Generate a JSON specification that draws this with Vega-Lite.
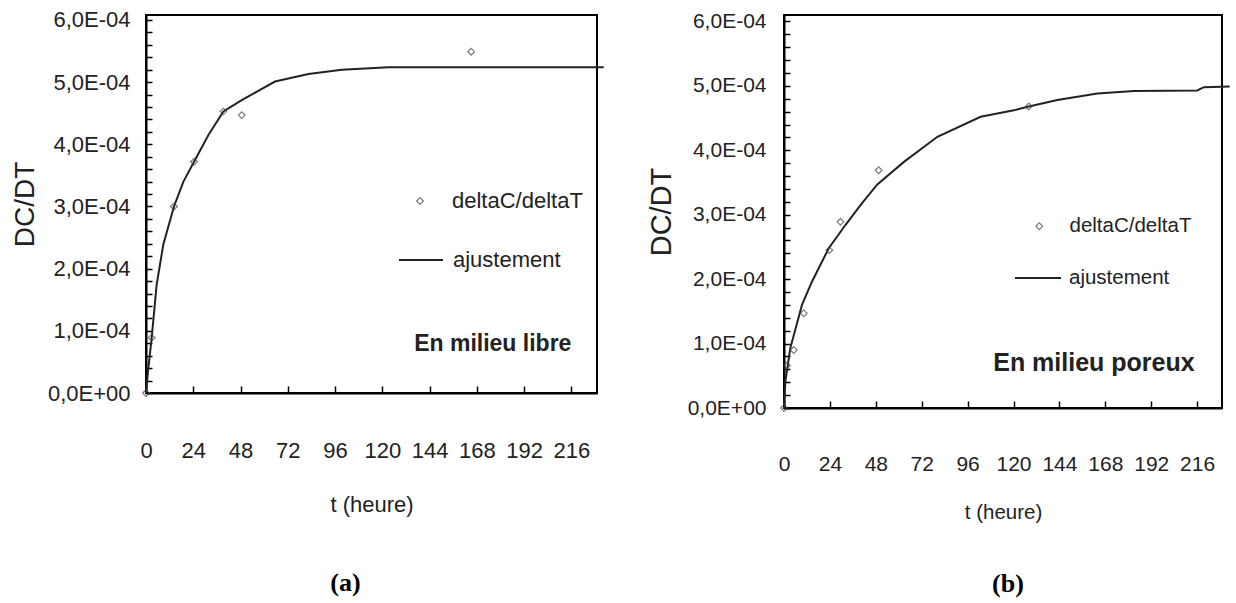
{
  "$schema": "https://vega.github.io/schema/vega-lite/v6.json",
  "background": "white",
  "padding": {"left": 10, "top": 7, "right": 0, "bottom": 0},
  "datasets": {
    "a_pts": [
      {"t": 0, "dcdt": 0, "serie": "deltaC/deltaT"},
      {"t": 2.9, "dcdt": 0.000089, "serie": "deltaC/deltaT"},
      {"t": 14.2, "dcdt": 0.0003, "serie": "deltaC/deltaT"},
      {"t": 24.4, "dcdt": 0.000372, "serie": "deltaC/deltaT"},
      {"t": 39.3, "dcdt": 0.000453, "serie": "deltaC/deltaT"},
      {"t": 48.6, "dcdt": 0.000447, "serie": "deltaC/deltaT"},
      {"t": 165.1, "dcdt": 0.000549, "serie": "deltaC/deltaT"}
    ],
    "a_fit": [
      {"t": 0, "dcdt": 0, "serie": "ajustement"},
      {"t": 1.2, "dcdt": 0.00004, "serie": "ajustement"},
      {"t": 2.9, "dcdt": 0.000089, "serie": "ajustement"},
      {"t": 5.4, "dcdt": 0.000174, "serie": "ajustement"},
      {"t": 8.8, "dcdt": 0.000239, "serie": "ajustement"},
      {"t": 14.2, "dcdt": 0.0003, "serie": "ajustement"},
      {"t": 19, "dcdt": 0.00034, "serie": "ajustement"},
      {"t": 24.4, "dcdt": 0.000372, "serie": "ajustement"},
      {"t": 31.7, "dcdt": 0.000415, "serie": "ajustement"},
      {"t": 39.3, "dcdt": 0.000453, "serie": "ajustement"},
      {"t": 48.6, "dcdt": 0.000471, "serie": "ajustement"},
      {"t": 57, "dcdt": 0.000486, "serie": "ajustement"},
      {"t": 65.5, "dcdt": 0.000501, "serie": "ajustement"},
      {"t": 82.5, "dcdt": 0.000513, "serie": "ajustement"},
      {"t": 99.4, "dcdt": 0.00052, "serie": "ajustement"},
      {"t": 123.2, "dcdt": 0.000524, "serie": "ajustement"},
      {"t": 232.4, "dcdt": 0.000524, "serie": "ajustement"}
    ],
    "b_pts": [
      {"t": 0, "dcdt": 0, "serie": "deltaC/deltaT"},
      {"t": 1.6, "dcdt": 0.000066, "serie": "deltaC/deltaT"},
      {"t": 5.1, "dcdt": 0.00009, "serie": "deltaC/deltaT"},
      {"t": 10.3, "dcdt": 0.000147, "serie": "deltaC/deltaT"},
      {"t": 23.7, "dcdt": 0.000245, "serie": "deltaC/deltaT"},
      {"t": 29.5, "dcdt": 0.000289, "serie": "deltaC/deltaT"},
      {"t": 49.5, "dcdt": 0.000369, "serie": "deltaC/deltaT"},
      {"t": 128, "dcdt": 0.000468, "serie": "deltaC/deltaT"}
    ],
    "b_fit": [
      {"t": 0, "dcdt": 0, "serie": "ajustement"},
      {"t": 0.7, "dcdt": 0.000041, "serie": "ajustement"},
      {"t": 3.3, "dcdt": 0.000093, "serie": "ajustement"},
      {"t": 9.4, "dcdt": 0.00016, "serie": "ajustement"},
      {"t": 14.6, "dcdt": 0.000196, "serie": "ajustement"},
      {"t": 23.4, "dcdt": 0.000248, "serie": "ajustement"},
      {"t": 32.1, "dcdt": 0.000284, "serie": "ajustement"},
      {"t": 40.8, "dcdt": 0.000318, "serie": "ajustement"},
      {"t": 48.8, "dcdt": 0.000347, "serie": "ajustement"},
      {"t": 62.7, "dcdt": 0.000382, "serie": "ajustement"},
      {"t": 80.2, "dcdt": 0.000421, "serie": "ajustement"},
      {"t": 102.8, "dcdt": 0.000452, "serie": "ajustement"},
      {"t": 120.2, "dcdt": 0.000462, "serie": "ajustement"},
      {"t": 128, "dcdt": 0.000468, "serie": "ajustement"},
      {"t": 142.9, "dcdt": 0.000478, "serie": "ajustement"},
      {"t": 163.8, "dcdt": 0.000488, "serie": "ajustement"},
      {"t": 183, "dcdt": 0.000492, "serie": "ajustement"},
      {"t": 216, "dcdt": 0.000493, "serie": "ajustement"},
      {"t": 219.6, "dcdt": 0.000498, "serie": "ajustement"},
      {"t": 233, "dcdt": 0.000499, "serie": "ajustement"}
    ]
  },
  "config": {
    "font": "Liberation Sans",
    "view": {"stroke": "#000", "strokeWidth": 2},
    "axis": {
      "grid": false,
      "domainColor": "#000",
      "domainWidth": 2,
      "tickColor": "#000",
      "tickWidth": 1.5,
      "labelColor": "#222",
      "titleColor": "#222",
      "labelFont": "Liberation Sans",
      "titleFont": "Liberation Sans",
      "titleFontWeight": "normal"
    },
    "legend": {"padding": 0, "labelColor": "#222", "labelFont": "Liberation Sans", "labelLimit": 400},
    "concat": {"spacing": 37}
  },
  "resolve": {
    "scale": {"color": "independent", "shape": "independent"},
    "legend": {"color": "independent", "shape": "independent"}
  },
  "hconcat": [
    {
      "width": 451,
      "height": 378,
      "title": {"text": "(a)", "orient": "bottom", "frame": "group", "font": "Liberation Serif", "fontSize": 26, "fontWeight": "bold", "color": "#000", "dx": -26, "offset": 55},
      "layer": [
        {
          "data": {"name": "a_fit"},
          "mark": {"type": "line", "strokeWidth": 2, "clip": false},
          "encoding": {
            "x": {"field": "t", "type": "quantitative", "scale": {"domain": [0, 229], "nice": false, "zero": false},
              "axis": {"title": "t (heure)", "values": [0, 24, 48, 72, 96, 120, 144, 168, 192, 216], "labelOverlap": false, "labelFlush": false, "tickSize": -7, "labelPadding": 54, "labelFontSize": 22, "titleFontSize": 22, "titlePadding": 33}},
            "y": {"field": "dcdt", "type": "quantitative", "scale": {"domain": [0, 0.000608], "nice": false},
              "axis": {"title": "DC/DT", "values": [0, 0.00002, 0.00004, 0.00006, 0.00008, 0.0001, 0.00012, 0.00014, 0.00016, 0.00018, 0.0002, 0.00022, 0.00024, 0.00026, 0.00028, 0.0003, 0.00032, 0.00034, 0.00036, 0.00038, 0.0004, 0.00042, 0.00044, 0.00046, 0.00048, 0.0005, 0.00052, 0.00054, 0.00056, 0.00058, 0.0006],
                "labelExpr": "(round(datum.value*100000) % 10 == 0) ? replace(format(datum.value*10000, '.1f'), '.', ',') + (datum.value == 0 ? 'E+00' : 'E-04') : ''",
                "labelFontSize": {"condition": {"test": "round(datum.value*100000) % 10 != 0", "value": 1}, "value": 22},
                "labelOverlap": false, "labelFlush": false,
                "tickSize": -6, "labelPadding": 22, "titleFontSize": 28, "titlePadding": 8}},
            "color": {"field": "serie", "type": "nominal", "scale": {"range": ["#222"]},
              "legend": {"title": null, "orient": "none", "legendX": 252, "legendY": 222, "symbolType": "stroke", "symbolSize": 1936, "symbolStrokeWidth": 2, "labelFontSize": 22, "labelOffset": 9}}
          }
        },
        {
          "data": {"name": "a_pts"},
          "mark": {"type": "point", "size": 45, "filled": false, "color": "#444", "strokeWidth": 1.2},
          "encoding": {
            "x": {"field": "t", "type": "quantitative", "scale": {"domain": [0, 229], "nice": false, "zero": false},
              "axis": {"title": "t (heure)", "values": [0, 24, 48, 72, 96, 120, 144, 168, 192, 216], "labelOverlap": false, "labelFlush": false, "tickSize": -7, "labelPadding": 54, "labelFontSize": 22, "titleFontSize": 22, "titlePadding": 33}},
            "y": {"field": "dcdt", "type": "quantitative", "scale": {"domain": [0, 0.000608], "nice": false},
              "axis": {"title": "DC/DT", "values": [0, 0.00002, 0.00004, 0.00006, 0.00008, 0.0001, 0.00012, 0.00014, 0.00016, 0.00018, 0.0002, 0.00022, 0.00024, 0.00026, 0.00028, 0.0003, 0.00032, 0.00034, 0.00036, 0.00038, 0.0004, 0.00042, 0.00044, 0.00046, 0.00048, 0.0005, 0.00052, 0.00054, 0.00056, 0.00058, 0.0006],
                "labelExpr": "(round(datum.value*100000) % 10 == 0) ? replace(format(datum.value*10000, '.1f'), '.', ',') + (datum.value == 0 ? 'E+00' : 'E-04') : ''",
                "labelFontSize": {"condition": {"test": "round(datum.value*100000) % 10 != 0", "value": 1}, "value": 22},
                "labelOverlap": false, "labelFlush": false,
                "tickSize": -6, "labelPadding": 22, "titleFontSize": 28, "titlePadding": 8}},
            "shape": {"field": "serie", "type": "nominal", "scale": {"range": ["diamond"]},
              "legend": {"title": null, "orient": "none", "legendX": 263, "legendY": 175, "symbolSize": 45, "symbolStrokeWidth": 1.2, "symbolStrokeColor": "#444", "labelFontSize": 22, "labelOffset": 21}}
          }
        },
        {
          "data": {"values": [{"label": "En milieu libre"}]},
          "mark": {"type": "text", "align": "right", "baseline": "middle", "font": "Liberation Sans", "fontWeight": "bold", "fontSize": 23, "color": "#222"},
          "encoding": {
            "x": {"datum": 216, "type": "quantitative", "scale": {"domain": [0, 229], "nice": false, "zero": false},
              "axis": {"title": "t (heure)", "values": [0, 24, 48, 72, 96, 120, 144, 168, 192, 216], "labelOverlap": false, "labelFlush": false, "tickSize": -7, "labelPadding": 54, "labelFontSize": 22, "titleFontSize": 22, "titlePadding": 33}},
            "y": {"datum": 0.000079, "type": "quantitative", "scale": {"domain": [0, 0.000608], "nice": false},
              "axis": {"title": "DC/DT", "values": [0, 0.00002, 0.00004, 0.00006, 0.00008, 0.0001, 0.00012, 0.00014, 0.00016, 0.00018, 0.0002, 0.00022, 0.00024, 0.00026, 0.00028, 0.0003, 0.00032, 0.00034, 0.00036, 0.00038, 0.0004, 0.00042, 0.00044, 0.00046, 0.00048, 0.0005, 0.00052, 0.00054, 0.00056, 0.00058, 0.0006],
                "labelExpr": "(round(datum.value*100000) % 10 == 0) ? replace(format(datum.value*10000, '.1f'), '.', ',') + (datum.value == 0 ? 'E+00' : 'E-04') : ''",
                "labelFontSize": {"condition": {"test": "round(datum.value*100000) % 10 != 0", "value": 1}, "value": 22},
                "labelOverlap": false, "labelFlush": false,
                "tickSize": -6, "labelPadding": 22, "titleFontSize": 28, "titlePadding": 8}},
            "text": {"field": "label"}
          }
        }
      ]
    },
    {
      "width": 438,
      "height": 393,
      "title": {"text": "(b)", "orient": "bottom", "frame": "group", "font": "Liberation Serif", "fontSize": 26, "fontWeight": "bold", "color": "#000", "dx": 5, "offset": 48},
      "layer": [
        {
          "data": {"name": "b_fit"},
          "mark": {"type": "line", "strokeWidth": 2, "clip": false},
          "encoding": {
            "x": {"field": "t", "type": "quantitative", "scale": {"domain": [0, 229], "nice": false, "zero": false},
              "axis": {"title": "t (heure)", "values": [0, 24, 48, 72, 96, 120, 144, 168, 192, 216], "labelOverlap": false, "labelFlush": false, "tickSize": -7, "labelPadding": 52, "labelFontSize": 21, "titleFontSize": 20.5, "titlePadding": 28}},
            "y": {"field": "dcdt", "type": "quantitative", "scale": {"domain": [0, 0.00061], "nice": false},
              "axis": {"title": "DC/DT", "values": [0, 0.00002, 0.00004, 0.00006, 0.00008, 0.0001, 0.00012, 0.00014, 0.00016, 0.00018, 0.0002, 0.00022, 0.00024, 0.00026, 0.00028, 0.0003, 0.00032, 0.00034, 0.00036, 0.00038, 0.0004, 0.00042, 0.00044, 0.00046, 0.00048, 0.0005, 0.00052, 0.00054, 0.00056, 0.00058, 0.0006],
                "labelExpr": "(round(datum.value*100000) % 10 == 0) ? replace(format(datum.value*10000, '.1f'), '.', ',') + (datum.value == 0 ? 'E+00' : 'E-04') : ''",
                "labelFontSize": {"condition": {"test": "round(datum.value*100000) % 10 != 0", "value": 1}, "value": 21},
                "labelOverlap": false, "labelFlush": false,
                "tickSize": -6, "labelPadding": 24, "titleFontSize": 29, "titlePadding": 11}},
            "color": {"field": "serie", "type": "nominal", "scale": {"range": ["#222"]},
              "legend": {"title": null, "orient": "none", "legendX": 230, "legendY": 239, "symbolType": "stroke", "symbolSize": 2116, "symbolStrokeWidth": 2, "labelFontSize": 20.5, "labelOffset": 7}}
          }
        },
        {
          "data": {"name": "b_pts"},
          "mark": {"type": "point", "size": 45, "filled": false, "color": "#444", "strokeWidth": 1.2},
          "encoding": {
            "x": {"field": "t", "type": "quantitative", "scale": {"domain": [0, 229], "nice": false, "zero": false},
              "axis": {"title": "t (heure)", "values": [0, 24, 48, 72, 96, 120, 144, 168, 192, 216], "labelOverlap": false, "labelFlush": false, "tickSize": -7, "labelPadding": 52, "labelFontSize": 21, "titleFontSize": 20.5, "titlePadding": 28}},
            "y": {"field": "dcdt", "type": "quantitative", "scale": {"domain": [0, 0.00061], "nice": false},
              "axis": {"title": "DC/DT", "values": [0, 0.00002, 0.00004, 0.00006, 0.00008, 0.0001, 0.00012, 0.00014, 0.00016, 0.00018, 0.0002, 0.00022, 0.00024, 0.00026, 0.00028, 0.0003, 0.00032, 0.00034, 0.00036, 0.00038, 0.0004, 0.00042, 0.00044, 0.00046, 0.00048, 0.0005, 0.00052, 0.00054, 0.00056, 0.00058, 0.0006],
                "labelExpr": "(round(datum.value*100000) % 10 == 0) ? replace(format(datum.value*10000, '.1f'), '.', ',') + (datum.value == 0 ? 'E+00' : 'E-04') : ''",
                "labelFontSize": {"condition": {"test": "round(datum.value*100000) % 10 != 0", "value": 1}, "value": 21},
                "labelOverlap": false, "labelFlush": false,
                "tickSize": -6, "labelPadding": 24, "titleFontSize": 29, "titlePadding": 11}},
            "shape": {"field": "serie", "type": "nominal", "scale": {"range": ["diamond"]},
              "legend": {"title": null, "orient": "none", "legendX": 245, "legendY": 201, "symbolSize": 45, "symbolStrokeWidth": 1.2, "symbolStrokeColor": "#444", "labelFontSize": 20.5, "labelOffset": 20}}
          }
        },
        {
          "data": {"values": [{"label": "En milieu poreux"}]},
          "mark": {"type": "text", "align": "right", "baseline": "middle", "font": "Liberation Sans", "fontWeight": "bold", "fontSize": 25, "color": "#222"},
          "encoding": {
            "x": {"datum": 214.7, "type": "quantitative", "scale": {"domain": [0, 229], "nice": false, "zero": false},
              "axis": {"title": "t (heure)", "values": [0, 24, 48, 72, 96, 120, 144, 168, 192, 216], "labelOverlap": false, "labelFlush": false, "tickSize": -7, "labelPadding": 52, "labelFontSize": 21, "titleFontSize": 20.5, "titlePadding": 28}},
            "y": {"datum": 0.00007, "type": "quantitative", "scale": {"domain": [0, 0.00061], "nice": false},
              "axis": {"title": "DC/DT", "values": [0, 0.00002, 0.00004, 0.00006, 0.00008, 0.0001, 0.00012, 0.00014, 0.00016, 0.00018, 0.0002, 0.00022, 0.00024, 0.00026, 0.00028, 0.0003, 0.00032, 0.00034, 0.00036, 0.00038, 0.0004, 0.00042, 0.00044, 0.00046, 0.00048, 0.0005, 0.00052, 0.00054, 0.00056, 0.00058, 0.0006],
                "labelExpr": "(round(datum.value*100000) % 10 == 0) ? replace(format(datum.value*10000, '.1f'), '.', ',') + (datum.value == 0 ? 'E+00' : 'E-04') : ''",
                "labelFontSize": {"condition": {"test": "round(datum.value*100000) % 10 != 0", "value": 1}, "value": 21},
                "labelOverlap": false, "labelFlush": false,
                "tickSize": -6, "labelPadding": 24, "titleFontSize": 29, "titlePadding": 11}},
            "text": {"field": "label"}
          }
        }
      ]
    }
  ]
}
